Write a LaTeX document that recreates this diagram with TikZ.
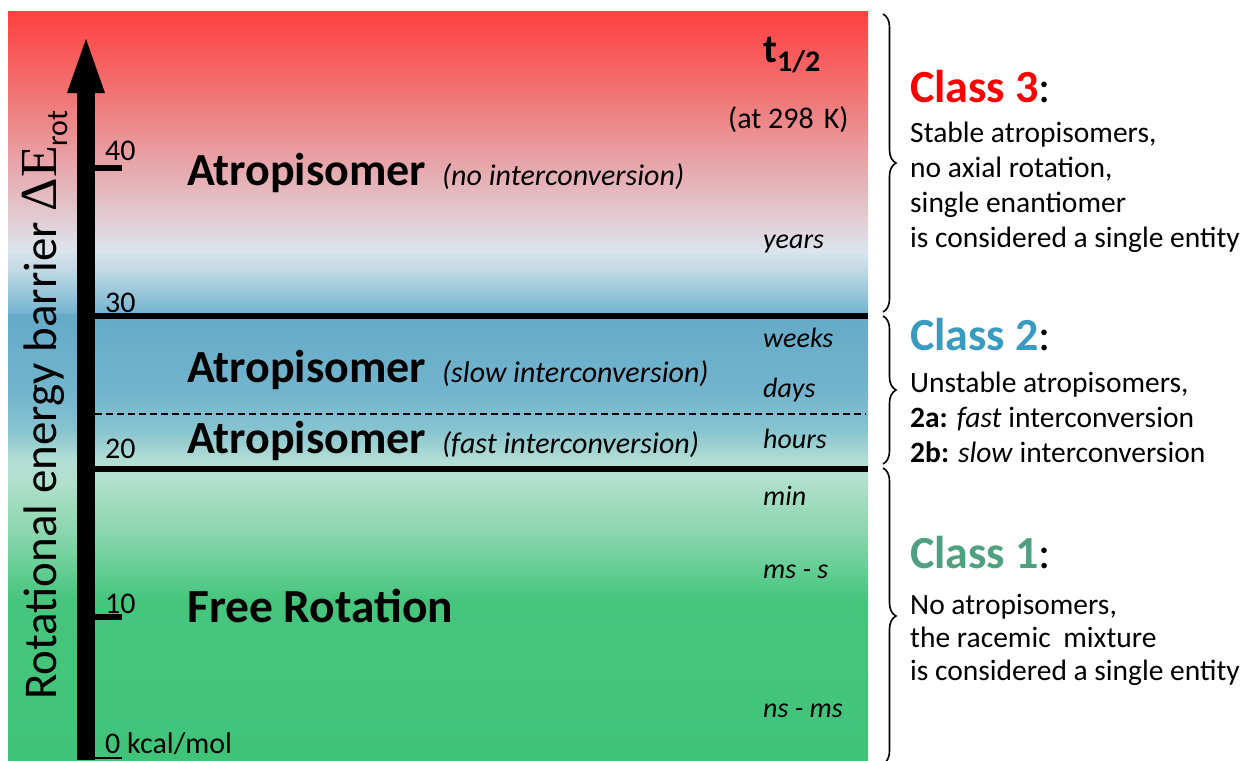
\documentclass[tikz,border=0pt]{standalone}
\usepackage{fontspec}
\setmainfont{Carlito}
\newfontfamily\serifE{Liberation Serif}
\usetikzlibrary{decorations.pathreplacing}
\newcommand\fsz[1]{\fontsize{#1}{#1}\selectfont}
\definecolor{s760}{RGB}{64,196,122}
\definecolor{s600}{RGB}{70,197,125}
\definecolor{s560}{RGB}{110,208,155}
\definecolor{s530}{RGB}{140,214,175}
\definecolor{s480}{RGB}{178,224,205}
\definecolor{s460}{RGB}{178,222,212}
\definecolor{s430}{RGB}{135,196,208}
\definecolor{s390}{RGB}{115,180,205}
\definecolor{s314}{RGB}{100,170,200}
\definecolor{s312}{RGB}{118,180,207}
\definecolor{s300}{RGB}{140,192,214}
\definecolor{s270}{RGB}{192,217,229}
\definecolor{s250}{RGB}{220,228,236}
\definecolor{s220}{RGB}{225,205,212}
\definecolor{s170}{RGB}{230,170,175}
\definecolor{s100}{RGB}{240,120,120}
\definecolor{s12}{RGB}{255,64,64}
\definecolor{c3col}{RGB}{255,0,0}
\definecolor{c2col}{RGB}{58,155,192}
\definecolor{c1col}{RGB}{78,160,128}
\pgfdeclareverticalshading{bgshade}{100bp}{color(0bp)=(s760); color(25bp)=(s760); color(35.70bp)=(s600); color(38.37bp)=(s560); color(40.37bp)=(s530); color(43.72bp)=(s480); color(45.05bp)=(s460); color(47.06bp)=(s430); color(49.73bp)=(s390); color(54.81bp)=(s314); color(54.91bp)=(s312); color(55.75bp)=(s300); color(57.75bp)=(s270); color(59.09bp)=(s250); color(61.10bp)=(s220); color(64.44bp)=(s170); color(69.12bp)=(s100); color(75bp)=(s12); color(100bp)=(s12)}
\tikzset{
  txt/.style={inner sep=0pt, anchor=base west},
  ticklbl/.style={txt, font=\fsz{30}},
  timelbl/.style={txt, font=\fsz{28}\itshape},
  body/.style={txt, font=\fsz{29.5}},
  ctitle/.style={txt, font=\fsz{46}\bfseries},
  level/.style={line width=5.5pt},
  bracestyle/.style={line width=1.6pt, decorate, decoration={brace, amplitude=13pt}},
}
\begin{document}
\begin{tikzpicture}[x=1pt,y=-1pt]
\useasboundingbox (0,0) rectangle (1246,760);
% background
\shade[shading=bgshade] (8,12) rectangle (868,760);
% arrow
\fill (77,760) rectangle (95,91);
\fill (67,93) -- (86,39) -- (105,93) -- cycle;
% ticks and level lines
\draw[level] (95,168) -- (122,168);
\draw[level] (95,617) -- (122,617);
\draw[line width=2pt] (95,758) -- (122,758);
\draw[level] (95,316) -- (868,316);
\draw[level] (95,469) -- (868,469);
\draw[line width=1.6pt, dash pattern=on 6.5pt off 4.5pt] (95,414) -- (866,414);
% tick labels
\node[ticklbl] (l40) at (105,160) {40};
\node[ticklbl] (l30) at (105,312) {30};
\node[ticklbl] (l20) at (105,458) {20};
\node[ticklbl] (l10) at (105,613) {10};
\node[ticklbl] (l0) at (105,753) {0 kcal/mol};
% axis label
\node[txt, rotate=90] (ylab) at (56,700) {\fsz{47}Rotational energy barrier {\serifE\fsz{52}ΔE}\raisebox{-11pt}{\fsz{30}rot}};
% region labels
\node[txt] (r3) at (187,185) {\fsz{46}\bfseries Atropisomer\hspace{16pt}{\fsz{30}\mdseries\itshape (no interconversion)}};
\node[txt] (r2b) at (187,382) {\fsz{46}\bfseries Atropisomer\hspace{16pt}{\fsz{30}\mdseries\itshape (slow interconversion)}};
\node[txt] (r2a) at (187,453) {\fsz{46}\bfseries Atropisomer\hspace{16pt}{\fsz{30}\mdseries\itshape (fast interconversion)}};
\node[txt] (r1) at (187,622) {\fsz{47.5}\bfseries Free Rotation};
% half-life column
\node[txt] (thalf) at (763,63) {\fsz{40}\bfseries t\raisebox{-9pt}{\fsz{30}1/2}};
\node[txt] (temp) at (728,128) {\fsz{30}(at 298\hspace{10pt}K)};
\node[timelbl] (tyears) at (763,248) {years};
\node[timelbl] (tweeks) at (763,347) {weeks};
\node[timelbl] (tdays) at (763,397) {days};
\node[timelbl] (thours) at (763,448) {hours};
\node[timelbl] (tmin) at (763,505) {min};
\node[timelbl] (tmss) at (763,578) {ms - s};
\node[timelbl] (tnsms) at (763,717) {ns - ms};
% braces
\coordinate (b3t) at (883,14);
\coordinate (b3b) at (883,312);
\coordinate (b2t) at (883,316);
\coordinate (b2b) at (883,464);
\coordinate (b1t) at (883,468);
\coordinate (b1b) at (883,764);
\draw[bracestyle] (b3t) -- (b3b);
\draw[bracestyle] (b2t) -- (b2b);
\draw[bracestyle] (b1t) -- (b1b);
% class 3
\node[ctitle] (c3) at (910,102) {\textcolor{c3col}{Class 3}\mdseries:};
\node[body] (c3a) at (910,142) {Stable atropisomers,};
\node[body] (c3b) at (910,177) {no axial rotation,};
\node[body] (c3c) at (910,212) {single enantiomer};
\node[body] (c3d) at (910,247) {is considered a single entity};
% class 2
\node[ctitle] (c2) at (910,350) {\textcolor{c2col}{Class 2}\mdseries:};
\node[body] (c2a) at (910,392) {Unstable atropisomers,};
\node[body] (c2b) at (910,427) {\textbf{2a:} \textit{fast} interconversion};
\node[body] (c2c) at (910,462) {\textbf{2b:} \textit{slow} interconversion};
% class 1
\node[ctitle] (c1) at (910,568) {\textcolor{c1col}{Class 1}\mdseries:};
\node[body] (c1a) at (910,614) {No atropisomers,};
\node[body] (c1b) at (910,647) {the racemic\hspace{6pt} mixture};
\node[body] (c1c) at (910,680) {is considered a single entity};
\end{tikzpicture}
\end{document}
